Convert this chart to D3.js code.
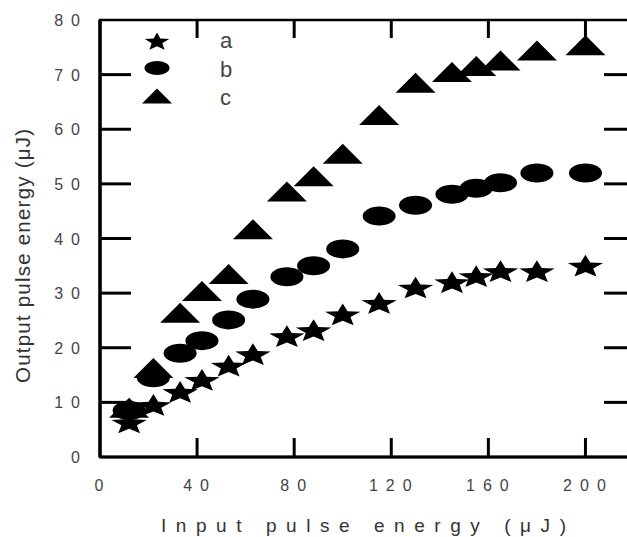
<!DOCTYPE html>
<html>
<head>
<meta charset="utf-8">
<script src="https://cdn.jsdelivr.net/npm/d3@7"></script>
<style>
  body { margin: 0; background: #fff; }
  svg { display: block; font-family: "Liberation Sans", Arial, sans-serif; }
</style>
</head>
<body>
<script>
// input energies (uJ) shared by the three series
const inputE = [12, 22, 33, 42, 53, 63, 77, 88, 100, 115, 130, 145, 155, 165, 180, 200];
// output energies (uJ)
const seriesA = [6.3, 9.5, 11.9, 14.1, 16.7, 18.8, 22.1, 23.2, 26.1, 28.2, 31.0, 32.0, 33.1, 34.0, 34.0, 35.0];
const seriesB = [8.5, 14.5, 19.0, 21.3, 25.1, 28.9, 33.0, 35.0, 38.1, 44.1, 46.1, 48.1, 49.2, 50.2, 52.0, 52.0];
const seriesC = [9.0, 16.3, 26.4, 30.4, 33.5, 41.7, 48.6, 51.4, 55.5, 62.6, 68.5, 70.5, 71.6, 72.6, 74.4, 75.4];
const xTicks = [0, 40, 80, 120, 160, 200];
const yTicks = [0, 10, 20, 30, 40, 50, 60, 70, 80];
const legendLabels = ["a", "b", "c"];

const width = 627, height = 537;
const plotL = 100, plotT = 20, plotR = 634, plotB = 457;

const svg = d3.select("body").append("svg")
  .attr("width", width)
  .attr("height", height);

const x = d3.scaleLinear().domain([0, 220]).range([plotL, plotR]);
const y = d3.scaleLinear().domain([0, 80]).range([plotB, plotT]);

// frame
svg.append("rect")
  .attr("x", plotL).attr("y", plotT)
  .attr("width", plotR - plotL).attr("height", plotB - plotT)
  .attr("fill", "none").attr("stroke", "#000").attr("stroke-width", 2.5);
svg.append("line")
  .attr("x1", plotL).attr("x2", plotL).attr("y1", plotT).attr("y2", plotB)
  .attr("stroke", "#000").attr("stroke-width", 3.5);
svg.append("line")
  .attr("x1", plotL).attr("x2", plotR).attr("y1", plotB).attr("y2", plotB)
  .attr("stroke", "#000").attr("stroke-width", 3);

// inward ticks, none on the corners
const tickG = svg.append("g").attr("stroke", "#000").attr("stroke-width", 3);
xTicks.filter(d => d > 0).forEach(d => {
  tickG.append("line").attr("x1", x(d)).attr("x2", x(d)).attr("y1", plotB).attr("y2", plotB - 19);
  tickG.append("line").attr("x1", x(d)).attr("x2", x(d)).attr("y1", plotT).attr("y2", plotT + 18);
});
yTicks.filter(d => d > 0 && d < 80).forEach(d => {
  tickG.append("line").attr("x1", plotL).attr("x2", plotL + 31).attr("y1", y(d)).attr("y2", y(d));
  tickG.append("line").attr("x1", plotR).attr("x2", plotR - 30).attr("y1", y(d)).attr("y2", y(d));
});

// tick labels (widely spaced digits)
svg.append("g").selectAll("text")
  .data(yTicks).enter().append("text")
  .attr("x", 80 + 8).attr("y", d => y(d) + 6)
  .attr("text-anchor", "end")
  .attr("font-size", 16).attr("fill", "#444")
  .attr("letter-spacing", 8)
  .text(d => d);

svg.append("g").selectAll("text")
  .data(xTicks).enter().append("text")
  .attr("x", d => x(d) + 3).attr("y", 491)
  .attr("text-anchor", "middle")
  .attr("font-size", 16).attr("fill", "#444")
  .attr("letter-spacing", 8)
  .text(d => d);

// axis titles
svg.append("text")
  .attr("x", 161).attr("y", 532)
  .attr("font-size", 19).attr("fill", "#333")
  .attr("textLength", 405).attr("lengthAdjust", "spacing")
  .text("Input pulse energy (\u03bcJ)");

svg.append("text")
  .attr("transform", "translate(30,383) rotate(-90)")
  .attr("font-size", 20.5).attr("fill", "#333")
  .attr("textLength", 254).attr("lengthAdjust", "spacing")
  .text("Output pulse energy (\u03bcJ)");

// marker shapes
function starPath(R, k) {
  const p = d3.path();
  for (let i = 0; i < 10; i++) {
    const a = -Math.PI / 2 + i * Math.PI / 5;
    const r = i % 2 ? R * k : R;
    if (i === 0) p.moveTo(r * Math.cos(a), r * Math.sin(a));
    else p.lineTo(r * Math.cos(a), r * Math.sin(a));
  }
  p.closePath();
  return p.toString();
}
const triPath = (w, h) => `M${-w / 2},${h / 2}L0,${-h / 2}L${w / 2},${h / 2}Z`;

const pts = (vals) => inputE.map((e, i) => ({ x: e, y: vals[i] }));

svg.append("g").selectAll("path")
  .data(pts(seriesC)).enter().append("path")
  .attr("d", triPath(40, 20))
  .attr("transform", d => `translate(${x(d.x)},${y(d.y)})`)
  .attr("fill", "#000");

svg.append("g").selectAll("ellipse")
  .data(pts(seriesB)).enter().append("ellipse")
  .attr("cx", d => x(d.x)).attr("cy", d => y(d.y))
  .attr("rx", 16.5).attr("ry", 9.5)
  .attr("fill", "#000");

svg.append("g").selectAll("path")
  .data(pts(seriesA)).enter().append("path")
  .attr("d", starPath(12, 0.44))
  .attr("transform", d => `translate(${x(d.x)},${y(d.y) + 1}) scale(1.55,1)`)
  .attr("fill", "#000");

// legend
const lg = svg.append("g");
lg.append("path").attr("d", starPath(9.5, 0.44))
  .attr("transform", "translate(157,42) scale(1.35,1)").attr("fill", "#000");
lg.append("ellipse").attr("cx", 157).attr("cy", 68).attr("rx", 12.5).attr("ry", 7).attr("fill", "#000");
lg.append("path").attr("d", triPath(30, 15))
  .attr("transform", "translate(157,96)").attr("fill", "#000");
lg.selectAll("text")
  .data(legendLabels).enter().append("text")
  .attr("x", 220).attr("y", (d, i) => 48 + i * 28.5)
  .attr("font-size", 22).attr("fill", "#444")
  .text(d => d);
</script>
</body>
</html>
